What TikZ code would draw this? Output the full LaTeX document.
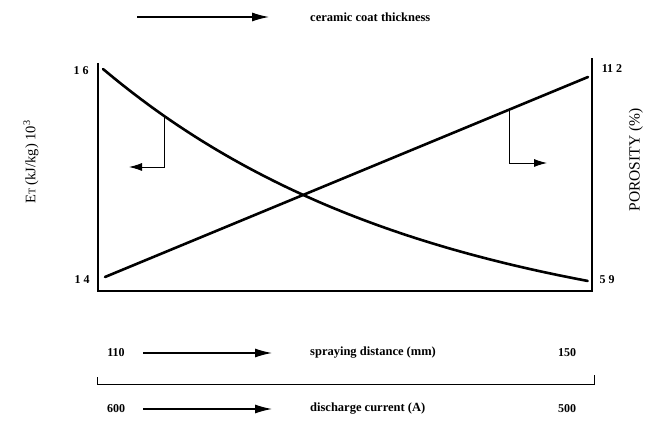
\documentclass[tikz,border=0pt]{standalone}
\usepackage{fontspec}
\setmainfont{Liberation Serif}
\usetikzlibrary{arrows.meta}
\begin{document}
\begin{tikzpicture}[x=1pt,y=-1pt,
  lbl/.style={font=\fontsize{12.5}{14}\selectfont\bfseries, inner sep=0pt},
  tick/.style={font=\fontsize{12}{14}\selectfont\bfseries, inner sep=0pt},
  vlbl/.style={font=\fontsize{14.5}{16}\selectfont, inner sep=0pt, rotate=90},
  axis/.style={line width=1.2pt},
  curve/.style={line width=2.6pt, line cap=round},
  ptr/.style={line width=0.9pt, -{Latex[length=13pt,width=8pt]}},
  bigarrow/.style={line width=1.2pt, -{Latex[length=17pt,width=9pt]}},
]
\useasboundingbox (0,0) rectangle (653,435);

% axes
\coordinate (LT) at (98,63);
\coordinate (LB) at (98,291);
\coordinate (RB) at (592,291);
\coordinate (RT) at (592,58);
\draw[axis] (LT) -- (LB) -- (RB) -- (RT);

% curves
\draw[curve] plot[domain=0:1, samples=80] ({103+485*\x},{69+212*(1-exp(-1.5*\x))/0.77687});
\coordinate (I0) at (105,277);
\coordinate (I1) at (588,77);
\draw[curve] (I0) -- (I1);

% pointers
\coordinate (p1) at (164,115);
\coordinate (p1e) at (129,167);
\draw[ptr] (p1) |- (p1e);
\coordinate (p2) at (509,110);
\coordinate (p2e) at (547,163);
\draw[ptr] (p2) |- (p2e);

% axis tick labels
\node[tick] (y16) at (81,71) {1 6};
\node[tick] (y14) at (82,280) {1 4};
\node[tick] (r112) at (612,69) {11 2};
\node[tick] (r59) at (607,280) {5 9};

% axis titles
\node[vlbl] (et) at (31,162) {E{\fontsize{10}{10}\selectfont T} (kJ/kg) 10\textsuperscript{3}};
\node[vlbl, font=\fontsize{15.5}{17}\selectfont] (por) at (636,160) {POROSITY (\%)};

% top arrow
\coordinate (ta1) at (137,17);
\coordinate (ta2) at (269,17);
\draw[bigarrow] (ta1) -- (ta2);
\node[lbl, anchor=west] (cct) at (310,17) {ceramic coat thickness};

% spraying distance row
\node[tick] (n110) at (116,353) {110};
\coordinate (sa1) at (143,353);
\coordinate (sa2) at (272,353);
\draw[bigarrow] (sa1) -- (sa2);
\node[lbl, anchor=west] (sd) at (310,353) {spraying distance (mm)};
\node[tick] (n150) at (567,353) {150};

% bracket
\coordinate (b1) at (97,377);
\coordinate (b2) at (97,384);
\coordinate (b3) at (594,384);
\coordinate (b4) at (594,375);
\draw[line width=1pt] (b1) -- (b2) -- (b3) -- (b4);

% discharge current row
\node[tick] (n600) at (116,409) {600};
\coordinate (da1) at (143,409);
\coordinate (da2) at (272,409);
\draw[bigarrow] (da1) -- (da2);
\node[lbl, anchor=west] (dc) at (310,409) {discharge current (A)};
\node[tick] (n500) at (567,409) {500};
\end{tikzpicture}
\end{document}
